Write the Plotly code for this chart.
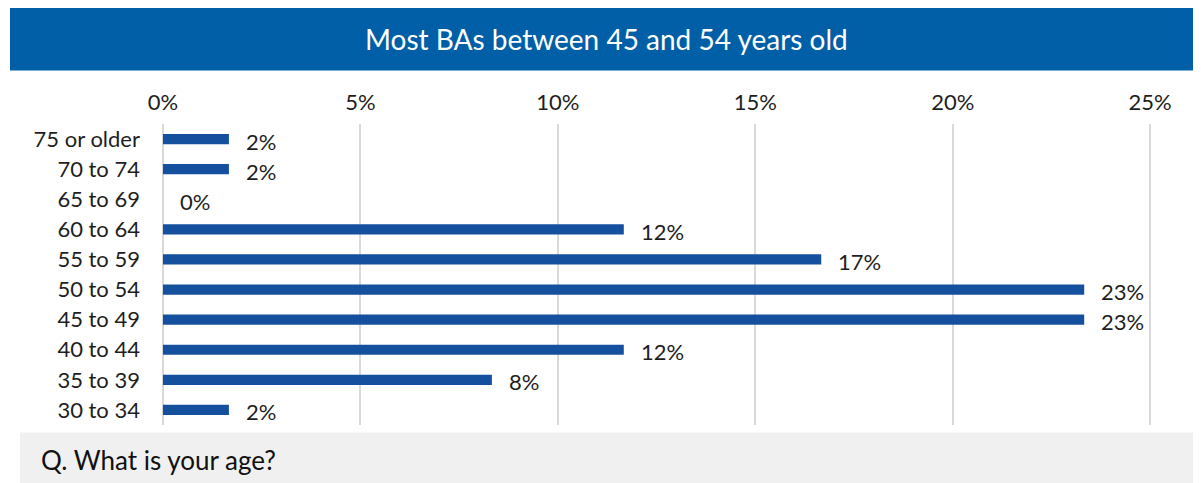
import plotly.graph_objects as go

categories = ["75 or older", "70 to 74", "65 to 69", "60 to 64", "55 to 59",
              "50 to 54", "45 to 49", "40 to 44", "35 to 39", "30 to 34"]
values = [1.67, 1.67, 0.0, 11.67, 16.67, 23.33, 23.33, 11.67, 8.33, 1.67]
labels = ["2%", "2%", "0%", "12%", "17%", "23%", "23%", "12%", "8%", "2%"]
tick_vals = [0, 5, 10, 15, 20, 25]
tick_text = ["0%", "5%", "10%", "15%", "20%", "25%"]
title_text = "Most BAs between 45 and 54 years old"
question_text = "Q. What is your age?"

OFF = 8  # page body margin
W, H = 1201 - OFF, 483 - OFF
L, R, T, B = 153, 39, 116, 58
pw, ph = W - L - R, H - T - B

def px(x):
    return (x - OFF - L) / pw

def py(y):
    return (H - B - (y - OFF)) / ph

FONT = "Lato, Noto Sans, sans-serif"

fig = go.Figure(go.Bar(
    x=values, y=categories, orientation="h",
    marker=dict(color="#15509F", line=dict(width=0)),
    width=0.34, hoverinfo="skip",
))

annotations = []
for c, v, t in zip(categories, values, labels):
    annotations.append(dict(x=v, y=c, xref="x", yref="y", text=t, showarrow=False,
                            xanchor="left", xshift=15, yshift=-2,
                            font=dict(family=FONT, size=22, color="#1E1E1E")))

annotations.append(dict(x=px(606), y=py(39), xref="paper", yref="paper", text=title_text,
                        showarrow=False, xanchor="center", yanchor="middle",
                        font=dict(family=FONT, size=28, color="white")))
annotations.append(dict(x=px(39), y=py(460), xref="paper", yref="paper", text=question_text,
                        showarrow=False, xanchor="left", yanchor="middle",
                        font=dict(family=FONT, size=26, color="#111111")))

shapes = [
    dict(type="rect", xref="paper", yref="paper", x0=px(10), x1=px(1201), y0=py(70.5), y1=py(8),
         fillcolor="#005FA6", line=dict(width=0), layer="below"),
    dict(type="rect", xref="paper", yref="paper", x0=px(20), x1=px(1201), y0=py(483), y1=py(432.5),
         fillcolor="#F0F0F0", line=dict(width=0), layer="below"),
]

fig.update_layout(
    width=W, height=H,
    margin=dict(l=L, r=R, t=T, b=B, pad=0),
    paper_bgcolor="white", plot_bgcolor="white",
    showlegend=False,
    annotations=annotations, shapes=shapes,
    font=dict(family=FONT, color="#1E1E1E"),
    xaxis=dict(range=[-0.05, 25.3], side="top", tickvals=tick_vals, ticktext=tick_text,
               showgrid=True, gridcolor="#D9D9D9", gridwidth=2,
               zeroline=True, zerolinecolor="#D9D9D9", zerolinewidth=2,
               showline=False, ticks="", tickfont=dict(family=FONT, size=22, color="#1E1E1E"),
               ticklabelstandoff=9, fixedrange=True),
    yaxis=dict(categoryorder="array", categoryarray=categories[::-1], autorange=False,
               range=[-0.5, 9.5], showgrid=False, zeroline=False, showline=False, ticks="",
               tickfont=dict(family=FONT, size=22, color="#1E1E1E"), ticklabelstandoff=20,
               fixedrange=True),
)

fig.write_html("out.html")
